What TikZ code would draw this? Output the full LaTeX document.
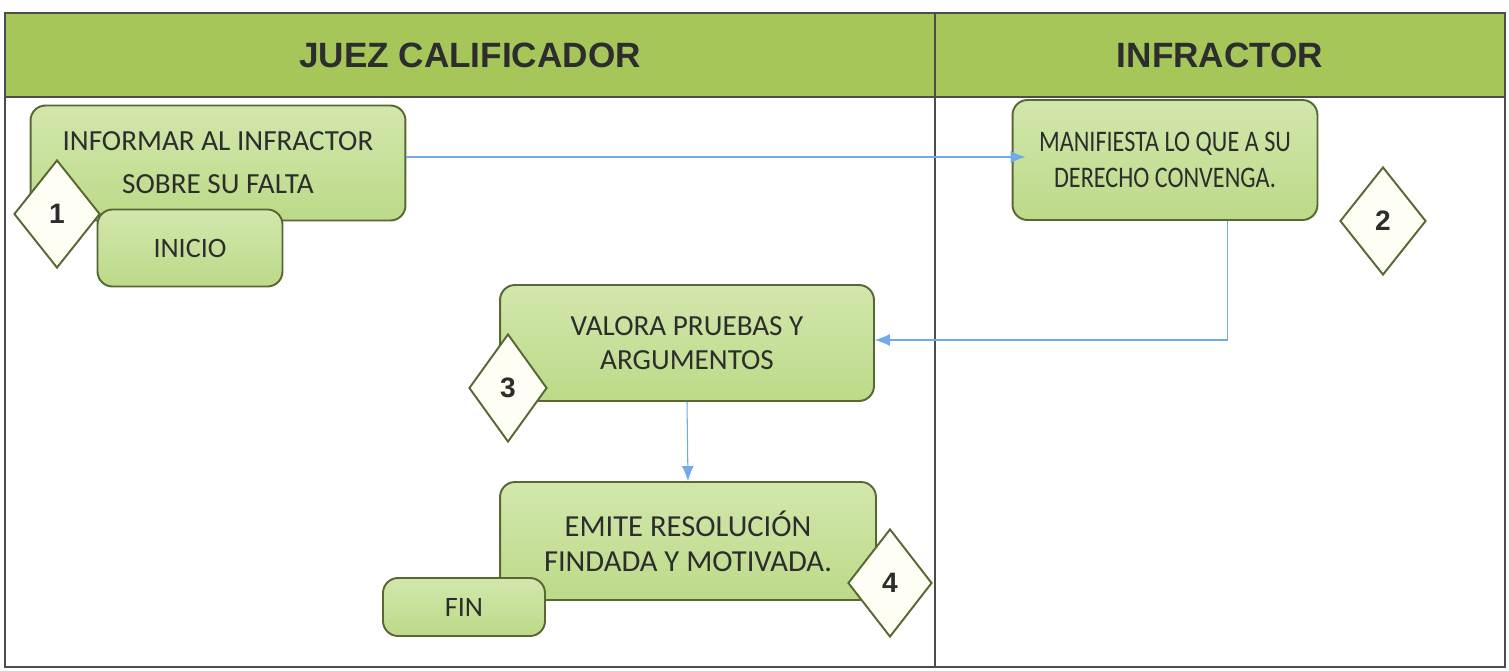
\documentclass[tikz,border=0pt]{standalone}
\usepackage{fontspec}
\setmainfont{Carlito}
\newfontfamily\headfont{Liberation Sans}
\newfontfamily\narrowfont[FakeStretch=0.81]{Carlito}
\usetikzlibrary{arrows,arrows.meta,positioning,shapes.geometric}

\definecolor{headgreen}{RGB}{166,198,90}
\definecolor{boxtop}{RGB}{210,231,172}
\definecolor{boxbot}{RGB}{188,218,136}
\definecolor{boxline}{RGB}{88,104,52}
\definecolor{flowblue}{RGB}{112,170,236}
\definecolor{txt}{RGB}{45,45,45}

\begin{document}
\begin{tikzpicture}[x=0.02cm,y=-0.02cm,>={Latex[length=0.3cm,width=0.24cm]},every node/.append style={align=center,text=txt},
    act/.style={draw=boxline, line width=1.1pt, top color=boxtop, bottom color=boxbot, rounded corners=0.3cm, font=\fontsize{16}{19}\selectfont},
    num/.style={diamond, draw=boxline, line width=1.1pt, fill=white!96!yellow, minimum width=1.72cm, minimum height=2.16cm, inner sep=0pt, font=\headfont\bfseries\fontsize{16}{19}\selectfont},
    lanehead/.style={font=\headfont\bfseries\fontsize{20}{24}\selectfont},
    flow/.style={->, draw=flowblue, line width=0.6pt}]
    \useasboundingbox[fill=white] (0,0) rectangle (1509,670);

    % lanes
    \fill[headgreen] (5,13) rectangle (1505,97);
    \draw[gray!60!black, line width=0.6pt] (5,13) rectangle (1505,667) (5,97) -- (1505,97) (935,13) -- (935,667);
    \node[lanehead] (jc) at (470,55) {JUEZ CALIFICADOR};
    \node[lanehead] (inf) at (1220,55) {INFRACTOR};

    % steps
    \node[act, minimum width=7.5cm, minimum height=2.3cm, font=\fontsize{16.6}{24.5}\selectfont] (b1) at (218,163) {INFORMAR AL INFRACTOR\\SOBRE SU FALTA};
    \node[act, minimum width=3.7cm, minimum height=1.54cm] (ini) at (190,248) {INICIO};
    \node[num] (n1) at (57,214) {1};

    \node[act, minimum width=6.1cm, minimum height=2.4cm, font=\narrowfont\fontsize{17}{20.5}\selectfont] (b2) at (1165,160) {MANIFIESTA LO QUE A SU\\DERECHO CONVENGA.};
    \node[num] (n2) at (1383,221) {2};

    \node[act, minimum width=7.48cm, minimum height=2.32cm, font=\fontsize{16.6}{19}\selectfont] (b3) at (687,343) {VALORA PRUEBAS Y\\ARGUMENTOS};
    \node[num, minimum width=1.56cm] (n3) at (508,388) {3};

    \node[act, minimum width=7.52cm, minimum height=2.36cm, font=\fontsize{17.4}{20}\selectfont] (b4) at (688,541) {EMITE RESOLUCIÓN\\FINDADA Y MOTIVADA.};
    \node[act, minimum width=3.24cm, minimum height=1.16cm] (fin) at (464,607) {FIN};
    \node[num, minimum width=1.68cm] (n4) at (890,583) {4};

    % connectors
    \draw[flow, shorten >=-0.28cm] ([yshift=0.12cm]b1.east) -- ([yshift=0.12cm]b1.east -| b2.west);
    \draw[flow] ([xshift=1.25cm]b2.south) |- ([yshift=0.06cm]b3.east);
    \draw[flow] (b3.south) -- (b4.north);
\end{tikzpicture}
\end{document}
